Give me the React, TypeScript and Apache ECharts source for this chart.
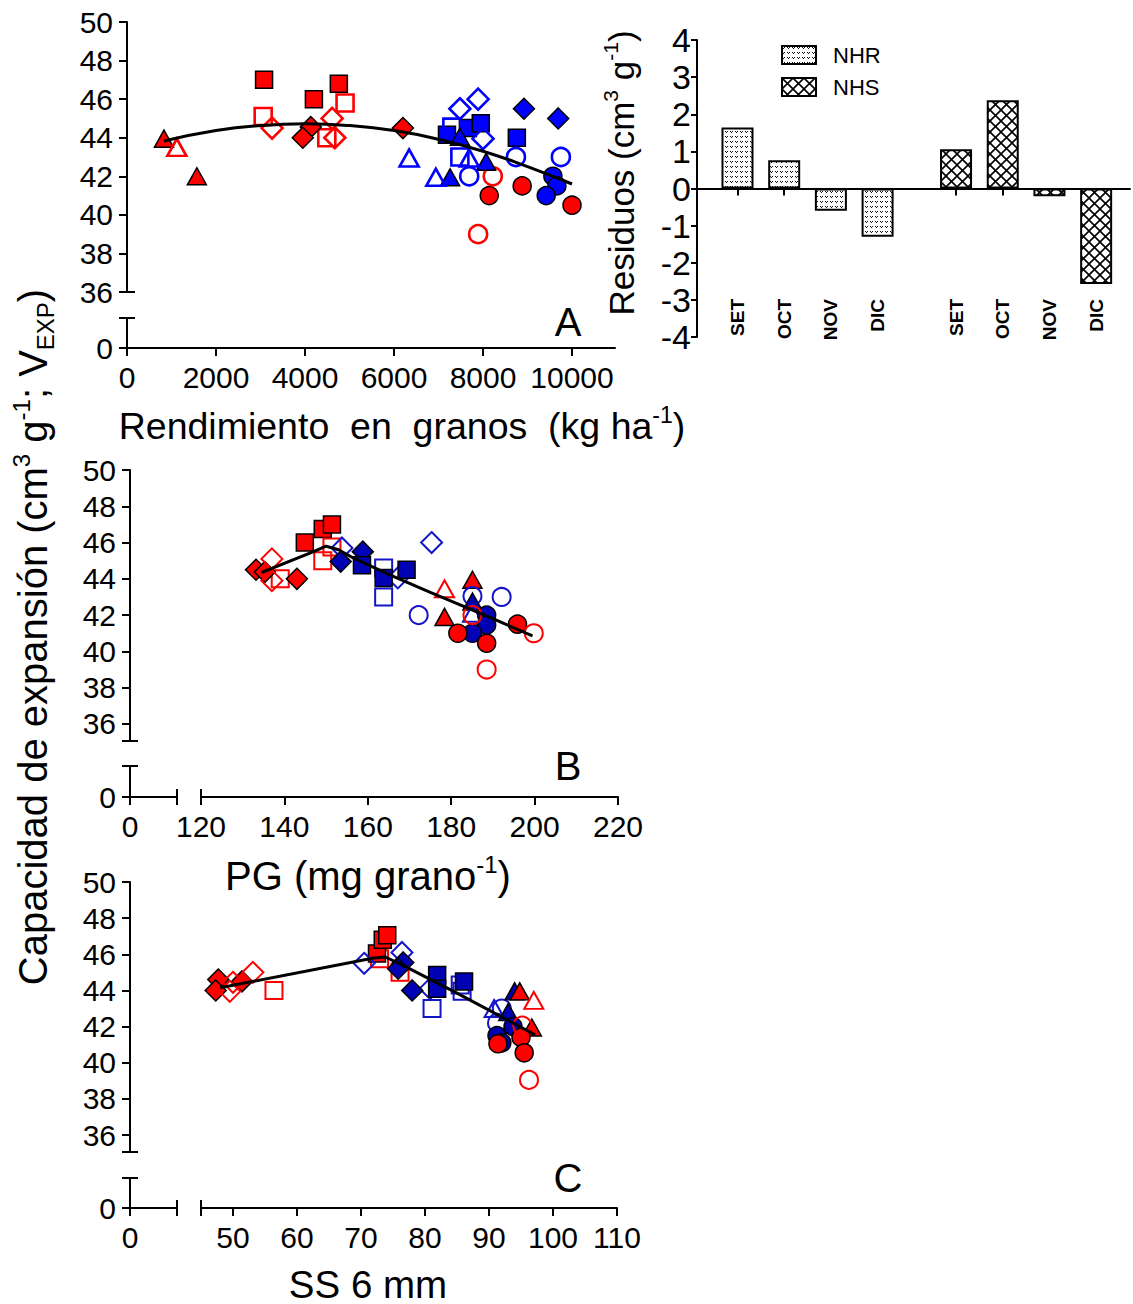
import React, { useEffect, useRef } from "react";
import * as echarts from "echarts";

const FONT = '"Liberation Sans", Arial, Helvetica, sans-serif';
const RED = "#ff0000";
const BLUE_A = "#0000ff";
const BLUE_BC = "#0000b4";
const BLUE_BC_OPEN = "#1414c8";

// ---------- Panel A: VEXP vs Rendimiento en granos (kg ha-1) ----------
const aRedFilledSquare = [[3080, 47.0], [4200, 46.0], [4760, 46.8]];
const aRedOpenSquare = [[3060, 45.1], [4900, 45.8], [4490, 44.0]];
const aRedFilledDiamond = [[4130, 44.55], [3950, 44.0], [6200, 44.5]];
const aRedOpenDiamond = [[3260, 44.5], [4610, 45.0], [4670, 44.0]];
const aRedFilledTriangle = [[830, 43.95], [1570, 42.0]];
const aRedOpenTriangle = [[1120, 43.5]];
const aRedFilledCircle = [[8140, 41.0], [8880, 41.5], [10000, 40.5]];
const aRedOpenCircle = [[8220, 42.0], [7890, 39.0]];
const aBlueFilledSquare = [[7660, 44.5], [7950, 44.75], [7190, 44.15], [8760, 44.0]];
const aBlueOpenSquare = [[7300, 44.55], [7480, 43.0]];
const aBlueFilledDiamond = [[8920, 45.5], [9690, 45.0]];
const aBlueOpenDiamond = [[7480, 45.5], [7890, 46.0], [8000, 43.95]];
const aBlueFilledTriangle = [[7480, 44.05], [8070, 42.75], [7260, 41.95]];
const aBlueOpenTriangle = [[6340, 42.95], [7690, 42.95], [6940, 41.95]];
const aBlueOpenCircle = [[8740, 43.0], [9750, 43.0], [7690, 42.0]];
const aBlueFilledCircle = [[9570, 42.0], [9660, 41.5], [9420, 41.0]];
const aFitX = [830, 2000, 3000, 4000, 5000, 6000, 7000, 8000, 9000, 10000];
const aFitY = [43.83, 44.37, 44.63, 44.72, 44.63, 44.37, 43.92, 43.3, 42.5, 41.6];

// ---------- Panel B: VEXP vs PG (mg grano-1) ----------
const bRedFilledSquare = [[144.9, 46.0], [149.2, 46.75], [151.4, 47.0]];
const bRedOpenSquare = [[139, 44.0], [149.2, 45.0], [151.4, 45.75]];
const bRedFilledDiamond = [[133.2, 44.5], [135.3, 44.38], [143, 44.0]];
const bRedOpenDiamond = [[137, 45.1], [137, 43.9]];
const bRedFilledTriangle = [[185.1, 43.95], [178.4, 41.9]];
const bRedOpenTriangle = [[178.4, 43.45]];
const bRedFilledCircle = [[181.6, 41.0], [188.5, 40.45], [195.9, 41.5]];
const bRedOpenCircle = [[185.1, 42.0], [199.8, 41.0], [188.5, 39.0]];
const bBlueFilledSquare = [[158.6, 44.75], [163.8, 44.05], [169.3, 44.5]];
const bBlueOpenSquare = [[163.8, 44.6], [163.8, 43.0]];
const bBlueFilledDiamond = [[153.5, 44.95], [158.8, 45.5]];
const bBlueOpenDiamond = [[153.8, 45.7], [167.2, 44.05], [175.3, 46.0]];
const bBlueFilledTriangle = [[185.1, 42.75]];
const bBlueOpenTriangle = [[185.1, 42.1]];
const bBlueOpenCircle = [[185.1, 43.05], [192.1, 43.0], [172.2, 42.0]];
const bBlueFilledCircle = [[188.5, 42.0], [188.5, 41.45], [185.1, 41.0]];
const bFitX = [134.5, 147, 150, 153, 156.5, 165, 175, 190, 199.5];
const bFitY = [44.35, 45.5, 45.8, 45.6, 45.15, 44.25, 43.25, 41.8, 40.85];

// ---------- Panel C: VEXP vs SS 6 mm ----------
const cRedFilledDiamond = [[47.7, 44.6], [47.3, 44.0], [51.4, 44.5]];
const cRedOpenDiamond = [[50.0, 44.45], [49.5, 43.95], [53.1, 45.0]];
const cRedOpenSquare = [[56.4, 44.0], [72.9, 45.75], [76.1, 45.0]];
const cRedFilledSquare = [[72.5, 46.05], [73.4, 46.8], [74.1, 47.05]];
const cBlueOpenDiamond = [[70.5, 45.5], [76.4, 46.1], [80.8, 44.1]];
const cBlueFilledDiamond = [[76.6, 45.55], [75.8, 45.2], [78.0, 44.0]];
const cBlueFilledSquare = [[81.9, 44.85], [81.9, 44.1], [86.1, 44.5]];
const cBlueOpenSquare = [[81.1, 43.0], [85.5, 44.3], [85.8, 43.95]];
const cRedFilledTriangle = [[94.8, 43.95], [96.7, 41.95]];
const cRedOpenTriangle = [[97.0, 43.45]];
const cBlueFilledTriangle = [[94.0, 43.95], [93.0, 42.8]];
const cBlueOpenTriangle = [[90.8, 43.0]];
const cBlueOpenCircle = [[92.0, 43.0], [91.25, 42.2]];
const cBlueFilledCircle = [[93.75, 42.0], [91.25, 41.5], [92.0, 41.1]];
const cRedFilledCircle = [[95.0, 41.4], [91.4, 41.05], [95.5, 40.55]];
const cRedOpenCircle = [[95.2, 42.05], [96.25, 39.05]];
const cFitX = [48, 72, 73.8, 76.5, 85, 97.2];
const cFitY = [44.15, 45.8, 45.85, 45.4, 43.85, 41.55];

// ---------- Residuals ----------
const months = ["SET", "OCT", "NOV", "DIC"];
const residNHR = [1.64, 0.76, -0.6, -1.3];
const residNHS = [1.06, 2.38, -0.21, -2.57];

// ---------- Tick labels ----------
const vexpTicks = [36, 38, 40, 42, 44, 46, 48, 50];
const aXTicks = [0, 2000, 4000, 6000, 8000, 10000];
const bXTicks = [120, 140, 160, 180, 200, 220];
const cXTicks = [50, 60, 70, 80, 90, 100, 110];

const NHS_SHIFT = 4.68;

const black = { color: "#000", width: 2 };

function labelStyle(values: number[], size = 30, margin = 14) {
  return {
    show: true,
    customValues: values,
    fontFamily: FONT,
    fontSize: size,
    color: "#000",
    margin,
    formatter: (v: number) => String(v),
  };
}

function mainAxis(o: any, ticks: number[], labels: number[]) {
  return {
    type: "value",
    splitLine: { show: false },
    axisLine: { show: true, onZero: false, lineStyle: black },
    axisTick: { show: true, length: 8, lineStyle: black, customValues: ticks },
    axisLabel: labels.length ? labelStyle(labels) : { show: false },
    ...o,
  };
}

function capAxis(o: any, v: number) {
  return {
    type: "value",
    splitLine: { show: false },
    axisLine: { show: false, onZero: false },
    axisTick: { show: true, inside: true, length: 8, lineStyle: black, customValues: [v] },
    axisLabel: { show: false },
    ...o,
  };
}

function hiddenAxis(o: any) {
  return { type: "value", show: false, ...o };
}

function makePattern(kind: "dots" | "cross") {
  const c = document.createElement("canvas");
  if (kind === "dots") {
    c.width = 5;
    c.height = 5;
    const g = c.getContext("2d")!;
    g.fillStyle = "#fff";
    g.fillRect(0, 0, 5, 5);
    g.fillStyle = "#111";
    g.fillRect(0, 1, 1, 1);
    g.fillRect(1, 2, 1, 1);
    g.fillRect(2, 1, 1, 1);
  } else {
    c.width = 11;
    c.height = 11;
    const g = c.getContext("2d")!;
    g.fillStyle = "#fff";
    g.fillRect(0, 0, 11, 11);
    g.strokeStyle = "#000";
    g.lineWidth = 1.6;
    g.beginPath();
    g.moveTo(-1, -1);
    g.lineTo(12, 12);
    g.moveTo(12, -1);
    g.lineTo(-1, 12);
    g.stroke();
  }
  return { image: c.toDataURL(), repeat: "repeat", imageWidth: c.width, imageHeight: c.height };
}

const SIZES: any = { rect: 17, circle: 18, triangle: [19, 17], diamond: [21, 21] };

function scatter(data: number[][], symbol: string, filled: boolean, color: string, xi: number, yi: number, openW: number) {
  return {
    type: "scatter",
    xAxisIndex: xi,
    yAxisIndex: yi,
    data,
    symbol,
    symbolSize: SIZES[symbol],
    silent: true,
    z: 2,
    itemStyle: filled
      ? { color, borderColor: "#000", borderWidth: 1.5, opacity: 1 }
      : { color: "rgba(255,255,255,0)", borderColor: color, borderWidth: openW, opacity: 1 },
  };
}

function fitLine(xs: number[], ys: number[], xi: number, yi: number, smooth: boolean) {
  return {
    type: "line",
    xAxisIndex: xi,
    yAxisIndex: yi,
    data: xs.map((x, i) => [x, ys[i]]),
    showSymbol: false,
    symbol: "none",
    smooth,
    silent: true,
    z: 4,
    lineStyle: { color: "#000", width: 3 },
  };
}

function rich(fs: number) {
  const s = Math.round(fs * 0.6);
  return {
    n: { fontSize: fs, fontFamily: FONT, fill: "#000", lineHeight: Math.round(fs * 1.2) },
    sup: { fontSize: s, fontFamily: FONT, fill: "#000", verticalAlign: "top", lineHeight: s },
    sub: { fontSize: s, fontFamily: FONT, fill: "#000", verticalAlign: "bottom", lineHeight: s },
  };
}

function textEl(text: string, x: number, y: number, fs: number, rotation = 0) {
  return {
    type: "text",
    x,
    y,
    rotation,
    silent: true,
    style: {
      text,
      rich: rich(fs),
      fontSize: fs,
      fontFamily: FONT,
      fill: "#000",
      align: "center",
      verticalAlign: "middle",
      textAlign: "center",
      textVerticalAlign: "middle",
    },
  };
}

function buildOption() {
  const aMax = 10966;
  const aLowMax = 30 / 19.29;
  const bLowMax = 31 / 18.14;
  const cLowMax = 30 / 18.07;
  const upMin = 35.06;
  const bLeftMax = 47 / 4.175;
  const cLeftMax = 47 / 6.4;

  const grid = [
    { left: 127, top: 22, width: 488, height: 270 },
    { left: 127, top: 318, width: 488, height: 30 },
    { left: 201, top: 470, width: 417, height: 271 },
    { left: 130, top: 766, width: 47, height: 31 },
    { left: 201, top: 766, width: 417, height: 31 },
    { left: 201, top: 882, width: 416, height: 270 },
    { left: 130, top: 1178, width: 47, height: 30 },
    { left: 201, top: 1178, width: 416, height: 30 },
    { left: 697, top: 40, width: 433, height: 297 },
  ].map((g) => ({ ...g, containLabel: false, outerBoundsMode: "none" }));

  const barPos = [...months.map((_, i) => i + 1), ...months.map((_, i) => i + 1 + NHS_SHIFT)];
  const barLabels = [...months, ...months];
  const barMin = 0.133;
  const barMax = barMin + 433 / 46.7;

  const xAxis: any[] = [
    hiddenAxis({ gridIndex: 0, min: 0, max: aMax }), // 0
    mainAxis({ gridIndex: 1, min: 0, max: aMax, position: "bottom" }, aXTicks, aXTicks), // 1
    hiddenAxis({ gridIndex: 2, min: 120, max: 220 }), // 2
    mainAxis({ gridIndex: 3, min: 0, max: bLeftMax, position: "bottom" }, [0, bLeftMax], [0]), // 3
    capAxis({ gridIndex: 3, min: 0, max: bLeftMax, position: "bottom" }, bLeftMax), // 4
    mainAxis({ gridIndex: 4, min: 120, max: 220, position: "bottom" }, bXTicks, bXTicks), // 5
    capAxis({ gridIndex: 4, min: 120, max: 220, position: "bottom" }, 120), // 6
    hiddenAxis({ gridIndex: 5, min: 45, max: 110 }), // 7
    mainAxis({ gridIndex: 6, min: 0, max: cLeftMax, position: "bottom" }, [0, cLeftMax], [0]), // 8
    capAxis({ gridIndex: 6, min: 0, max: cLeftMax, position: "bottom" }, cLeftMax), // 9
    mainAxis({ gridIndex: 7, min: 45, max: 110, position: "bottom" }, [45, ...cXTicks], cXTicks), // 10
    capAxis({ gridIndex: 7, min: 45, max: 110, position: "bottom" }, 45), // 11
    {
      type: "value",
      gridIndex: 8,
      min: barMin,
      max: barMax,
      position: "bottom",
      splitLine: { show: false },
      axisLine: { show: true, onZero: true, lineStyle: black },
      axisTick: { show: true, length: 7, lineStyle: black, customValues: barPos },
      axisLabel: { show: false },
    }, // 12
    {
      type: "value",
      gridIndex: 8,
      min: barMin,
      max: barMax,
      position: "bottom",
      offset: -46,
      splitLine: { show: false },
      axisLine: { show: false, onZero: false },
      axisTick: { show: false },
      axisLabel: {
        show: true,
        customValues: barPos,
        rotate: 90,
        margin: 8,
        fontFamily: FONT,
        fontWeight: "bold",
        fontSize: 19,
        color: "#000",
        formatter: (v: number) => {
          let best = 0;
          barPos.forEach((p, i) => {
            if (Math.abs(p - v) < Math.abs(barPos[best] - v)) best = i;
          });
          return barLabels[best];
        },
      },
    }, // 13
  ];

  const yAxis: any[] = [
    mainAxis({ gridIndex: 0, min: 36, max: 50, position: "left" }, vexpTicks, vexpTicks), // 0
    capAxis({ gridIndex: 0, min: 36, max: 50, position: "left" }, 36), // 1
    mainAxis({ gridIndex: 1, min: 0, max: aLowMax, position: "left" }, [0, aLowMax], [0]), // 2
    capAxis({ gridIndex: 1, min: 0, max: aLowMax, position: "left" }, aLowMax), // 3
    mainAxis({ gridIndex: 2, min: upMin, max: 50, position: "left", offset: 71 }, [upMin, ...vexpTicks], vexpTicks), // 4
    capAxis({ gridIndex: 2, min: upMin, max: 50, position: "left", offset: 71 }, upMin), // 5
    mainAxis({ gridIndex: 3, min: 0, max: bLowMax, position: "left" }, [0, bLowMax], [0]), // 6
    capAxis({ gridIndex: 3, min: 0, max: bLowMax, position: "left" }, bLowMax), // 7
    hiddenAxis({ gridIndex: 4, min: 0, max: bLowMax }), // 8
    mainAxis({ gridIndex: 5, min: upMin, max: 50, position: "left", offset: 71 }, [upMin, ...vexpTicks], vexpTicks), // 9
    capAxis({ gridIndex: 5, min: upMin, max: 50, position: "left", offset: 71 }, upMin), // 10
    mainAxis({ gridIndex: 6, min: 0, max: cLowMax, position: "left" }, [0, cLowMax], [0]), // 11
    capAxis({ gridIndex: 6, min: 0, max: cLowMax, position: "left" }, cLowMax), // 12
    hiddenAxis({ gridIndex: 7, min: 0, max: cLowMax }), // 13
    {
      type: "value",
      gridIndex: 8,
      min: -4,
      max: 4,
      interval: 1,
      position: "left",
      splitLine: { show: false },
      axisLine: { show: true, onZero: false, lineStyle: black },
      axisTick: { show: true, length: 6, lineStyle: black },
      axisLabel: { show: true, fontFamily: FONT, fontSize: 34, color: "#000", margin: 6 },
    }, // 14
  ];

  const series: any[] = [];
  const addPanel = (specs: any[], xi: number, yi: number, openW: number) => {
    specs.forEach(([d, sym, filled, col]) => series.push(scatter(d, sym, filled, col, xi, yi, openW)));
  };

  addPanel(
    [
      [aRedFilledSquare, "rect", true, RED],
      [aRedOpenSquare, "rect", false, RED],
      [aRedFilledDiamond, "diamond", true, RED],
      [aRedOpenDiamond, "diamond", false, RED],
      [aRedFilledTriangle, "triangle", true, RED],
      [aRedOpenTriangle, "triangle", false, RED],
      [aRedFilledCircle, "circle", true, RED],
      [aRedOpenCircle, "circle", false, RED],
      [aBlueFilledSquare, "rect", true, BLUE_A],
      [aBlueOpenSquare, "rect", false, BLUE_A],
      [aBlueFilledDiamond, "diamond", true, BLUE_A],
      [aBlueOpenDiamond, "diamond", false, BLUE_A],
      [aBlueFilledTriangle, "triangle", true, BLUE_A],
      [aBlueOpenTriangle, "triangle", false, BLUE_A],
      [aBlueOpenCircle, "circle", false, BLUE_A],
      [aBlueFilledCircle, "circle", true, BLUE_A],
    ],
    0,
    0,
    2.6
  );
  series.push(fitLine(aFitX, aFitY, 0, 0, true));

  addPanel(
    [
      [bRedFilledSquare, "rect", true, RED],
      [bRedOpenSquare, "rect", false, RED],
      [bRedFilledDiamond, "diamond", true, RED],
      [bRedOpenDiamond, "diamond", false, RED],
      [bBlueOpenSquare, "rect", false, BLUE_BC_OPEN],
      [bBlueOpenDiamond, "diamond", false, BLUE_BC_OPEN],
      [bBlueFilledDiamond, "diamond", true, BLUE_BC],
      [bBlueFilledSquare, "rect", true, BLUE_BC],
      [bRedFilledTriangle, "triangle", true, RED],
      [bRedOpenTriangle, "triangle", false, RED],
      [bBlueOpenCircle, "circle", false, BLUE_BC_OPEN],
      [bBlueFilledTriangle, "triangle", true, BLUE_BC],
      [bBlueOpenTriangle, "triangle", false, BLUE_BC_OPEN],
      [bBlueFilledCircle, "circle", true, BLUE_BC],
      [bRedFilledCircle, "circle", true, RED],
      [bRedOpenCircle, "circle", false, RED],
    ],
    2,
    4,
    2
  );
  series.push(fitLine(bFitX, bFitY, 2, 4, false));

  addPanel(
    [
      [cRedFilledDiamond, "diamond", true, RED],
      [cRedOpenDiamond, "diamond", false, RED],
      [cRedOpenSquare, "rect", false, RED],
      [cRedFilledSquare, "rect", true, RED],
      [cBlueOpenDiamond, "diamond", false, BLUE_BC_OPEN],
      [cBlueFilledDiamond, "diamond", true, BLUE_BC],
      [cBlueOpenSquare, "rect", false, BLUE_BC_OPEN],
      [cBlueFilledSquare, "rect", true, BLUE_BC],
      [cBlueOpenTriangle, "triangle", false, BLUE_BC_OPEN],
      [cBlueOpenCircle, "circle", false, BLUE_BC_OPEN],
      [cBlueFilledTriangle, "triangle", true, BLUE_BC],
      [cRedFilledTriangle, "triangle", true, RED],
      [cRedOpenTriangle, "triangle", false, RED],
      [cBlueFilledCircle, "circle", true, BLUE_BC],
      [cRedFilledCircle, "circle", true, RED],
      [cRedOpenCircle, "circle", false, RED],
    ],
    7,
    9,
    2
  );
  series.push(fitLine(cFitX, cFitY, 7, 9, false));

  const dots = makePattern("dots");
  const cross = makePattern("cross");
  series.push({
    type: "bar",
    name: "NHR",
    xAxisIndex: 12,
    yAxisIndex: 14,
    barWidth: 32,
    barGap: "-100%",
    data: months.map((_, i) => [i + 1, residNHR[i]]),
    itemStyle: { color: dots, borderColor: "#000", borderWidth: 2 },
    silent: true,
  });
  series.push({
    type: "bar",
    name: "NHS",
    xAxisIndex: 12,
    yAxisIndex: 14,
    barWidth: 32,
    barGap: "-100%",
    data: months.map((_, i) => [i + 1 + NHS_SHIFT, residNHS[i]]),
    itemStyle: { color: cross, borderColor: "#000", borderWidth: 2 },
    silent: true,
  });

  const graphic = [
    textEl("{n|Capacidad de expansión (cm}{sup|3}{n| g}{sup|-1}{n|; V}{sub|EXP}{n|)}", 33, 637, 40, Math.PI / 2),
    textEl("{n|Rendimiento  en  granos  (kg ha}{sup|-1}{n|)}", 402, 426, 37.5),
    textEl("{n|PG (mg grano}{sup|-1}{n|)}", 368, 876, 40),
    textEl("{n|SS 6 mm}", 368, 1284, 38.5),
    textEl("{n|A}", 568, 322, 40),
    textEl("{n|B}", 568, 766, 40),
    textEl("{n|C}", 568, 1178, 40),
    textEl("{n|Residuos (cm}{sup|3}{n| g}{sup|-1}{n|)}", 621, 173, 35, Math.PI / 2),
  ];

  return {
    animation: false,
    backgroundColor: "#fff",
    textStyle: { fontFamily: FONT },
    grid,
    xAxis,
    yAxis,
    series,
    graphic,
    legend: {
      data: ["NHR", "NHS"],
      orient: "vertical",
      left: 781,
      top: 44,
      padding: 0,
      icon: "rect",
      itemWidth: 34,
      itemHeight: 18,
      itemGap: 10,
      selectedMode: false,
      textStyle: { fontFamily: FONT, fontSize: 22, color: "#000", padding: [0, 0, 0, 12] },
    },
  };
}

export default function App() {
  const ref = useRef<HTMLDivElement>(null);
  useEffect(() => {
    const chart = echarts.init(ref.current!, null, { renderer: "svg" });
    chart.setOption(buildOption() as any);
    return () => chart.dispose();
  }, []);
  return (
    <div
      ref={ref}
      style={{ position: "absolute", left: 0, top: 0, width: 1133, height: 1304, background: "#fff" }}
    />
  );
}
